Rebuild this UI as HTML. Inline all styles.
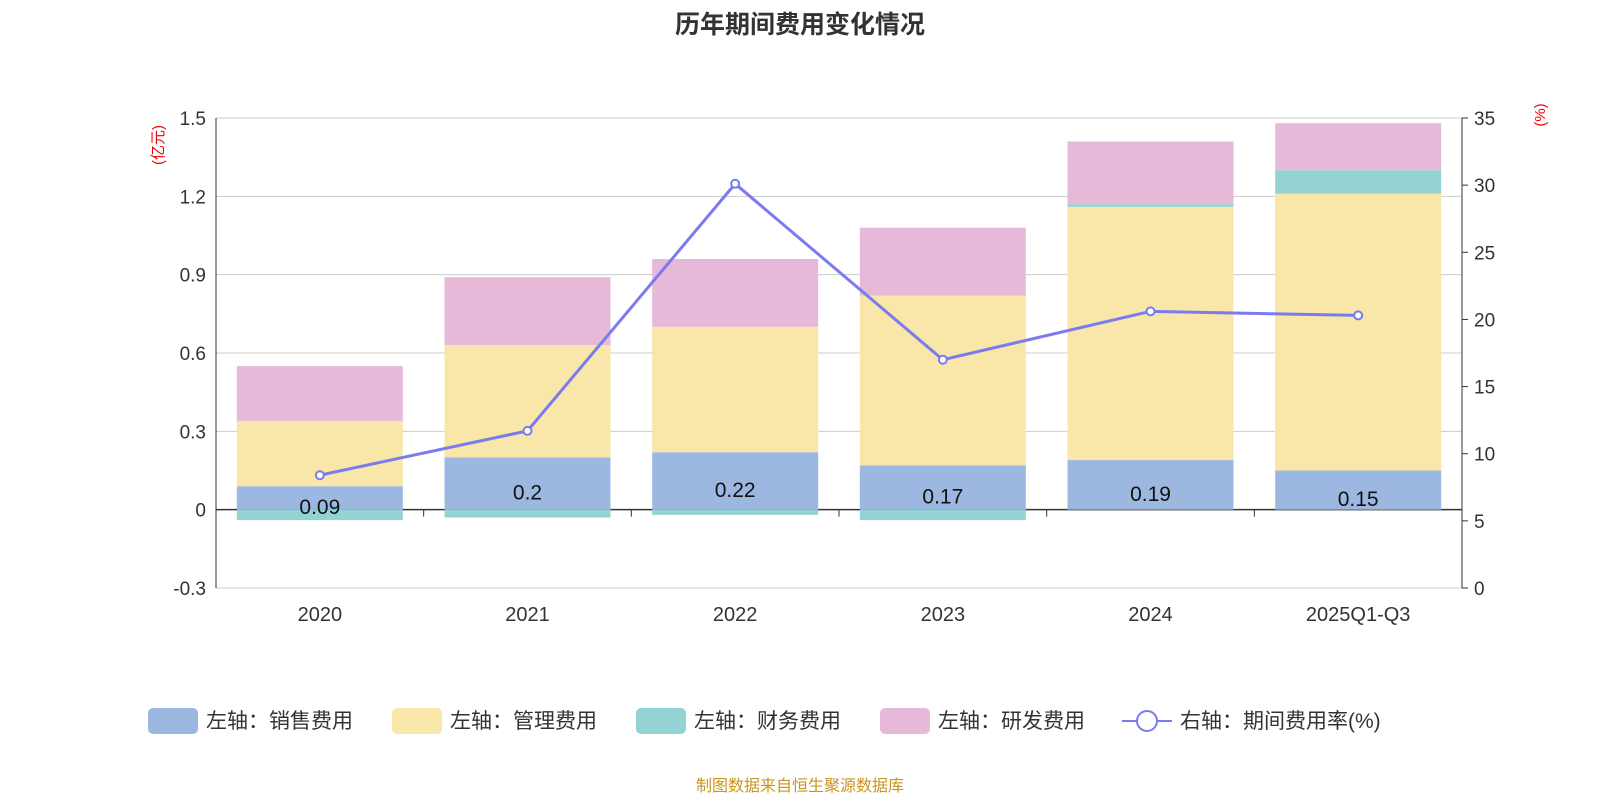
<!DOCTYPE html>
<html><head><meta charset="utf-8"><style>
body{margin:0;background:#fff;}
svg text{font-family:"Liberation Sans","Noto Sans CJK SC",sans-serif;}
</style></head><body>
<svg id="chart" width="1600" height="800" viewBox="0 0 1600 800" xmlns="http://www.w3.org/2000/svg">
<text x="800" y="33" text-anchor="middle" font-size="25" font-weight="bold" fill="#333">历年期间费用变化情况</text>
<text transform="translate(163,145) rotate(-90)" text-anchor="middle" font-size="15" fill="#e00">(亿元)</text>
<text transform="translate(1545,115) rotate(-90)" text-anchor="middle" font-size="15" fill="#e00">(%)</text>
<g id="grid"></g><g id="bars"></g><g id="axes"></g><g id="line"></g><g id="legend"></g>
<text x="800" y="791" text-anchor="middle" font-size="16" fill="#c8961e">制图数据来自恒生聚源数据库</text>
</svg>
<script>
const categories=["2020","2021","2022","2023","2024","2025Q1-Q3"];
const sales=[0.09,0.2,0.22,0.17,0.19,0.15];
const admin=[0.25,0.43,0.48,0.65,0.97,1.06];
const finance=[-0.04,-0.03,-0.02,-0.04,0.01,0.09];
const rnd=[0.21,0.26,0.26,0.26,0.24,0.18];
const rate=[8.4,11.7,30.1,17.0,20.6,20.3];
const leftTicks=[-0.3,0,0.3,0.6,0.9,1.2,1.5];
const rightTicks=[0,5,10,15,20,25,30,35];
const NS="http://www.w3.org/2000/svg";
const X0=216,X1=1462,TOP=118,BOT=588;
const yL=v=>TOP+(1.5-v)/1.8*(BOT-TOP);
const yR=v=>BOT-v/35*(BOT-TOP);
const step=(X1-X0)/categories.length;
const xC=i=>X0+step*(i+0.5);
const bw=166;
function mk(tag,attrs,parent){const e=document.createElementNS(NS,tag);for(const k in attrs)e.setAttribute(k,attrs[k]);document.getElementById(parent).appendChild(e);return e;}
leftTicks.forEach(t=>{
 const g=mk('line',{x1:X0,x2:X1,y1:yL(t),y2:yL(t),stroke:t===0?'#333':'#ccc','stroke-width':t===0?1.5:1},'grid');
 
 const tx=mk('text',{x:X0-10,y:yL(t)+7,'text-anchor':'end','font-size':19,fill:'#333'},'axes');
 
 tx.textContent=t===0?'0':String(t);
});
rightTicks.forEach(t=>{
 const l=mk('line',{x1:X1,x2:X1+6,y1:yR(t),y2:yR(t),stroke:'#333'},'axes');
 
 const tx=mk('text',{x:X1+12,y:yR(t)+7,'font-size':19,fill:'#333'},'axes');
 
 tx.textContent=String(t);
});
let a=mk('line',{x1:X0,x2:X0,y1:TOP,y2:BOT,stroke:'#333'},'axes');
a=mk('line',{x1:X1,x2:X1,y1:TOP,y2:BOT,stroke:'#333'},'axes');
for(let i=0;i<=categories.length;i++){const l=mk('line',{x1:X0+step*i,x2:X0+step*i,y1:yL(0),y2:yL(0)+7,stroke:'#333'},'axes');}
function rect(x,v0,v1,color,name){const y=Math.min(yL(v0),yL(v1));const h=Math.abs(yL(v0)-yL(v1));const r=mk('rect',{x:x-bw/2,y:y,width:bw,height:h,fill:color},'bars');}
categories.forEach((c,i)=>{
 const x=xC(i);let top=0;
 rect(x,0,sales[i],'#9cb8e1','bar-sales');top+=sales[i];
 rect(x,top,top+admin[i],'#f8e7a8','bar-admin');top+=admin[i];
 if(finance[i]>=0){rect(x,top,top+finance[i],'#94d3d3','bar-finance');top+=finance[i];}else rect(x,0,finance[i],'#94d3d3','bar-finance');
 rect(x,top,top+rnd[i],'#e7b9d8','bar-rnd');
 const lb=mk('text',{x:x,y:(yL(0)+yL(sales[i]))/2+16,'text-anchor':'middle','font-size':21,fill:'#111'},'bars');
 lb.textContent=String(sales[i]);
 const cl=mk('text',{x:x,y:621,'text-anchor':'middle','font-size':20,fill:'#333'},'axes');
 cl.textContent=c;
});
const pts=rate.map((v,i)=>xC(i)+','+yR(v)).join(' ');
const pl=mk('polyline',{points:pts,fill:'none',stroke:'#7b7bef','stroke-width':3},'line');

rate.forEach((v,i)=>{const c=mk('circle',{cx:xC(i),cy:yR(v),r:4,fill:'#fff',stroke:'#7b7bef','stroke-width':2},'line');});
const leg=[["左轴：销售费用","#9cb8e1",148],["左轴：管理费用","#f8e7a8",392],["左轴：财务费用","#94d3d3",636],["左轴：研发费用","#e7b9d8",880]];
leg.forEach(l=>{const r=mk('rect',{x:l[2],y:708,width:50,height:26,rx:5,fill:l[1]},'legend');
 const t=mk('text',{x:l[2]+58,y:728,'font-size':21,fill:'#333'},'legend');t.textContent=l[0];});
let ll=mk('line',{x1:1122,x2:1172,y1:721,y2:721,stroke:'#7b7bef','stroke-width':2},'legend');
let lc=mk('circle',{cx:1147,cy:721,r:10,fill:'#fff',stroke:'#7b7bef','stroke-width':2},'legend');
let lt=mk('text',{x:1180,y:728,'font-size':21,fill:'#333'},'legend');lt.textContent='右轴：期间费用率(%)';
</script>
</body></html>
